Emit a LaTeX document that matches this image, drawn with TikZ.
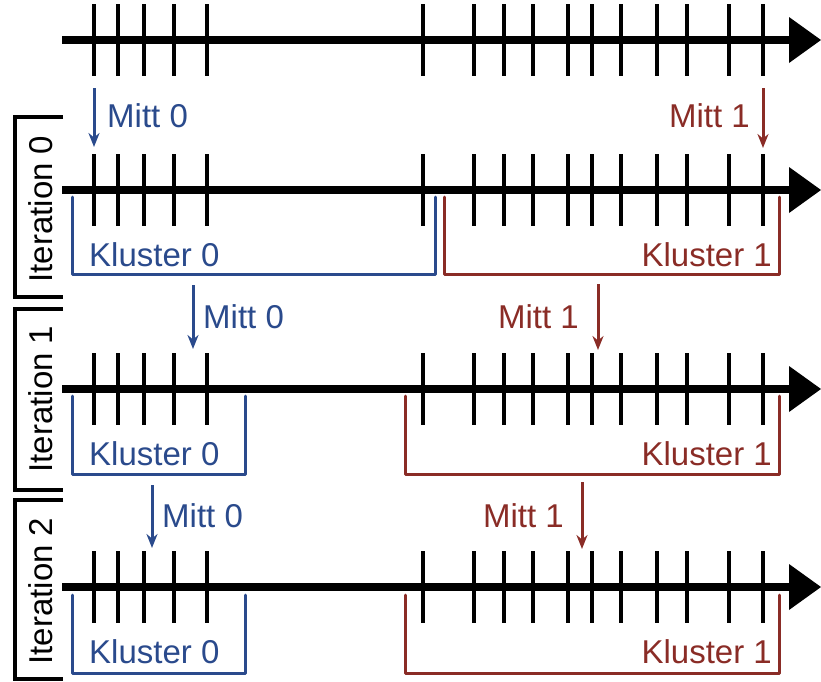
\documentclass[tikz,border=0pt]{standalone}
\usepackage{fontspec}
\setmainfont{Liberation Sans}
\usetikzlibrary{arrows.meta}
\definecolor{cblue}{RGB}{42,74,140}
\definecolor{cred}{RGB}{138,44,38}
\tikzset{
  axisline/.style={line width=8pt},
  axishead/.style={fill=black},
  tickline/.style={line width=3.5pt},
  clusterbox/.style={line width=3pt,line join=round,line cap=round},
  mittarrow/.style={line width=3pt,-{Stealth[length=14pt,width=11pt]}},
  lbl/.style={font=\fontsize{33}{38}\selectfont,inner sep=0pt},
  iterbracket/.style={line width=4pt,line join=miter},
}
\begin{document}
\begin{tikzpicture}[x=1pt,y=-1pt]
\useasboundingbox (0,0) rectangle (821,681);
% axes with ticks
\foreach \ay/\nm in {40/a0,190/a1,389/a2,587/a3}{
  \coordinate (\nm s) at (62,\ay);
  \coordinate (\nm e) at (795,\ay);
  \draw[axisline] (\nm s) -- (\nm e);
  \fill[axishead] (789,\ay-23) -- (821,\ay) -- (789,\ay+23) -- cycle;
  \foreach \tx in {94,118,144,174,207,423,474,504,533,568,592,621,657,687,729,763}{
    \draw[tickline] (\tx,\ay-36) -- (\tx,\ay+36);
  }
}
% iteration brackets
\draw[iterbracket] (63,117) -- (15,117) -- (15,297) -- (63,297);
\draw[iterbracket] (63,309) -- (15,309) -- (15,490) -- (63,490);
\draw[iterbracket] (63,500) -- (15,500) -- (15,679) -- (63,679);
\node[lbl,rotate=90] (it0) at (41,209) {Iteration 0};
\node[lbl,rotate=90] (it1) at (41,399) {Iteration 1};
\node[lbl,rotate=90] (it2) at (41,591) {Iteration 2};
% ---- iteration 0
\coordinate (m00s) at (94,88);  \coordinate (m00e) at (94,147);
\draw[mittarrow,cblue] (m00s) -- (m00e);
\node[lbl,cblue,anchor=west] (m00) at (107,116) {Mitt 0};
\coordinate (m10s) at (763,88); \coordinate (m10e) at (763,148);
\draw[mittarrow,cred] (m10s) -- (m10e);
\node[lbl,cred,anchor=east] (m10) at (750,116) {Mitt 1};
\draw[clusterbox,cblue] (72,197) -- (72,274) -- (435,274) -- (435,197);
\node[lbl,cblue,anchor=base west] (k00) at (89,266) {Kluster 0};
\draw[clusterbox,cred] (444,197) -- (444,274) -- (779,274) -- (779,197);
\node[lbl,cred,anchor=base east] (k10) at (772,266) {Kluster 1};
% ---- iteration 1
\coordinate (m01s) at (193,285); \coordinate (m01e) at (193,349);
\draw[mittarrow,cblue] (m01s) -- (m01e);
\node[lbl,cblue,anchor=west] (m01) at (203,317) {Mitt 0};
\coordinate (m11s) at (598,284); \coordinate (m11e) at (598,350);
\draw[mittarrow,cred] (m11s) -- (m11e);
\node[lbl,cred,anchor=east] (m11) at (579,317) {Mitt 1};
\draw[clusterbox,cblue] (72,396) -- (72,474) -- (245,474) -- (245,396);
\node[lbl,cblue,anchor=base west] (k01) at (89,465) {Kluster 0};
\draw[clusterbox,cred] (405,396) -- (405,474) -- (779,474) -- (779,396);
\node[lbl,cred,anchor=base east] (k11) at (772,465) {Kluster 1};
% ---- iteration 2
\coordinate (m02s) at (152,485); \coordinate (m02e) at (152,548);
\draw[mittarrow,cblue] (m02s) -- (m02e);
\node[lbl,cblue,anchor=west] (m02) at (162,516) {Mitt 0};
\coordinate (m12s) at (582,482); \coordinate (m12e) at (582,549);
\draw[mittarrow,cred] (m12s) -- (m12e);
\node[lbl,cred,anchor=east] (m12) at (564,516) {Mitt 1};
\draw[clusterbox,cblue] (72,595) -- (72,673) -- (245,673) -- (245,595);
\node[lbl,cblue,anchor=base west] (k02) at (89,663) {Kluster 0};
\draw[clusterbox,cred] (405,595) -- (405,673) -- (779,673) -- (779,595);
\node[lbl,cred,anchor=base east] (k12) at (772,663) {Kluster 1};
\end{tikzpicture}
\end{document}
